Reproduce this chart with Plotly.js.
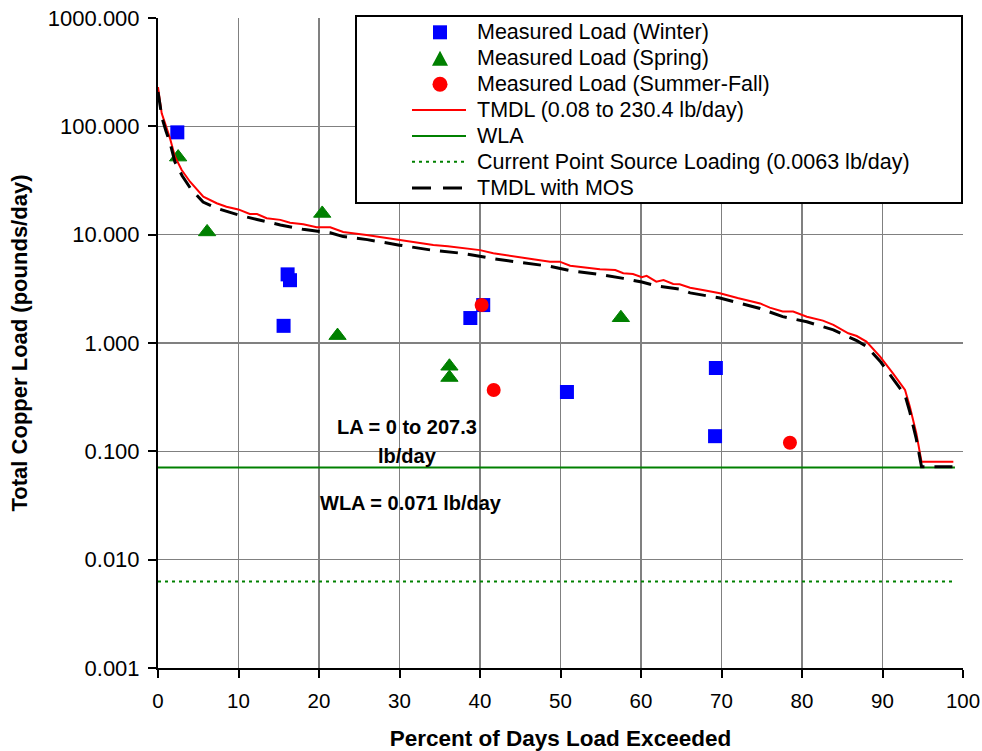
<!DOCTYPE html>
<html><head><meta charset="utf-8">
<script src="https://cdn.plot.ly/plotly-3.0.1.min.js"></script>
<style>html,body{margin:0;padding:0;background:#fff}#chart{width:982px;height:751px}</style>
</head><body><div id="chart"></div>
<script>
// ---------- data ----------
const winterX = [2.4, 16.1, 16.4, 15.6, 38.8, 40.4, 50.8, 69.3, 69.2];
const winterY = [88, 4.3, 3.8, 1.44, 1.70, 2.24, 0.353, 0.588, 0.138];

const springX = [2.5, 6.1, 20.4, 22.3, 36.2, 36.2, 57.5];
const springY = [52, 10.6, 15.7, 1.17, 0.61, 0.48, 1.71];

const summerX = [40.2, 41.7, 78.5];
const summerY = [2.24, 0.368, 0.120];

const tmdlX = [0, 0.25, 0.46, 0.87, 1.49, 2.11, 2.94, 3.98, 5.63, 7.29, 8.5, 9.98, 11.4, 12.3, 13.5, 15.2, 16.4, 18.05, 19.7, 21.4, 23.0, 25.9, 28, 30.06, 32, 34.2, 36, 38.3, 40, 41.65, 44.6, 46.6, 48.7, 49.9, 51.2, 53, 54.9, 56.8, 57.8, 59.0, 60.1, 60.7, 61.9, 62.8, 64.0, 64.8, 66.1, 68, 69.8, 72, 74.8, 76.0, 77.6, 78.9, 80.6, 82.6, 83.9, 85.75, 86.8, 88.0, 89.7, 91.3, 92.8, 93.4, 94.2, 94.85, 98.8];
const tmdlY = [230.4, 175, 132, 107, 77.5, 52.5, 39.5, 30.8, 22.4, 19.5, 18.1, 17.1, 15.5, 15.5, 14.2, 13.7, 12.9, 12.5, 11.7, 11.7, 10.6, 9.93, 9.4, 8.93, 8.5, 8.03, 7.8, 7.48, 7.2, 6.73, 6.18, 5.92, 5.63, 5.63, 5.17, 5.0, 4.79, 4.71, 4.40, 4.33, 4.04, 4.17, 3.68, 3.81, 3.51, 3.49, 3.24, 3.05, 2.88, 2.6, 2.32, 2.12, 1.95, 1.95, 1.75, 1.61, 1.47, 1.23, 1.16, 1.03, 0.748, 0.525, 0.368, 0.258, 0.147, 0.08, 0.08];

const mosX = [0, 0.5, 1.0, 1.5, 2.1, 3.0, 4.0, 5.6, 7.3, 10, 12.3, 15.2, 18, 21.4, 23, 26, 30, 34, 38, 41.7, 44.6, 48.7, 51.2, 54.9, 57.8, 60.1, 62, 64.8, 66.1, 69.8, 74.8, 77.6, 80.6, 83.9, 86.8, 88, 89.7, 91.3, 92.8, 93.4, 94.2, 94.85, 98.8];
const mosY = [207, 120, 90, 70, 47, 35, 27, 20, 17.5, 15.2, 13.8, 12.3, 11.2, 10.4, 9.6, 9.0, 8.0, 7.2, 6.7, 6.0, 5.6, 5.1, 4.65, 4.3, 3.95, 3.65, 3.35, 3.15, 2.9, 2.6, 2.08, 1.75, 1.57, 1.32, 1.05, 0.93, 0.68, 0.47, 0.33, 0.23, 0.13, 0.072, 0.072];

const wlaX = [0, 99];
const wlaY = [0.071, 0.071];
const psX = [0, 99];
const psY = [0.0063, 0.0063];

const yTickVals = [0.001, 0.01, 0.1, 1, 10, 100, 1000];
const yTickText = ['0.001', '0.010', '0.100', '1.000', '10.000', '100.000', '1000.000'];

const legendLabels = ['Measured Load (Winter)', 'Measured Load (Spring)', 'Measured Load (Summer-Fall)',
  'TMDL (0.08 to 230.4 lb/day)', 'WLA', 'Current Point Source Loading (0.0063 lb/day)', 'TMDL with MOS'];

const annoTexts = ['LA = 0 to 207.3', 'lb/day', 'WLA = 0.071 lb/day'];

// ---------- layout helpers ----------
const FONT = 'Liberation Sans, Arial, Helvetica, sans-serif';
const L = 158, R = 963, T = 18, B = 668;
const px = x => (x - L) / (R - L);
const py = y => (B - y) / (B - T);

const BLUE = '#0000ff', GREEN = '#008000', RED = '#ff0000';

const traces = [
  {x: winterX, y: winterY, type: 'scatter', mode: 'markers', name: legendLabels[0],
   marker: {symbol: 'square', size: 14, color: BLUE}},
  {x: springX, y: springY, type: 'scatter', mode: 'markers', name: legendLabels[1],
   marker: {symbol: 'triangle-up', size: 15, color: GREEN, line: {color: GREEN, width: 1}}},
  {x: summerX, y: summerY, type: 'scatter', mode: 'markers', name: legendLabels[2],
   marker: {symbol: 'circle', size: 14, color: RED}},
  {x: tmdlX, y: tmdlY, type: 'scatter', mode: 'lines', name: legendLabels[3],
   line: {color: RED, width: 2}},
  {x: wlaX, y: wlaY, type: 'scatter', mode: 'lines', name: legendLabels[4],
   line: {color: GREEN, width: 2}},
  {x: psX, y: psY, type: 'scatter', mode: 'lines', name: legendLabels[5],
   line: {color: GREEN, width: 2, dash: '3px,4px'}},
  {x: mosX, y: mosY, type: 'scatter', mode: 'lines', name: legendLabels[6],
   line: {color: '#000000', width: 3, dash: '18px,10px'}}
];

// ---------- manual legend ----------
const rowY = [32.3, 58.3, 84.3, 110, 136, 161.7, 188];
const shapes = [];
const annotations = [];
shapes.push({type: 'rect', xref: 'paper', yref: 'paper', layer: 'above',
  x0: px(356), x1: px(962), y0: py(203), y1: py(16),
  line: {color: '#000', width: 2}, fillcolor: '#ffffff'});
const mx = 440;
shapes.push({type: 'rect', xref: 'paper', yref: 'paper', layer: 'above',
  x0: px(mx - 7), x1: px(mx + 7), y0: py(rowY[0] + 7), y1: py(rowY[0] - 7),
  line: {width: 0}, fillcolor: BLUE});
shapes.push({type: 'path', xref: 'paper', yref: 'paper', layer: 'above',
  path: `M ${px(mx - 8)} ${py(rowY[1] + 7.5)} L ${px(mx + 8)} ${py(rowY[1] + 7.5)} L ${px(mx)} ${py(rowY[1] - 7.5)} Z`,
  line: {width: 0}, fillcolor: GREEN});
shapes.push({type: 'circle', xref: 'paper', yref: 'paper', layer: 'above',
  x0: px(mx - 7.5), x1: px(mx + 7.5), y0: py(rowY[2] + 7.5), y1: py(rowY[2] - 7.5),
  line: {width: 0}, fillcolor: RED});
const lineStyles = [
  {color: RED, width: 2, dash: 'solid'},
  {color: GREEN, width: 2, dash: 'solid'},
  {color: GREEN, width: 2, dash: '3px,4px'},
  {color: '#000000', width: 3, dash: '19px,12px'}
];
lineStyles.forEach((ls, i) => {
  const y = rowY[3 + i];
  shapes.push({type: 'line', xref: 'paper', yref: 'paper', layer: 'above',
    x0: px(412), x1: px(466), y0: py(y), y1: py(y), line: ls});
});
legendLabels.forEach((t, i) => {
  annotations.push({text: t, xref: 'paper', yref: 'paper', x: px(475), y: py(rowY[i]),
    xanchor: 'left', yanchor: 'middle', showarrow: false,
    font: {family: FONT, size: 21.5, color: '#000'}});
});

// ---------- text annotations ----------
const annoPos = [[407, 427], [407, 456], [410.5, 503]];
annoTexts.forEach((t, i) => {
  annotations.push({text: '<b>' + t + '</b>', xref: 'paper', yref: 'paper',
    x: px(annoPos[i][0]), y: py(annoPos[i][1]),
    xanchor: 'center', yanchor: 'middle', showarrow: false,
    font: {family: FONT, size: 20, color: '#000'}});
});

const layout = {
  width: 982, height: 751,
  margin: {l: L, r: 982 - R, t: T, b: 751 - B},
  paper_bgcolor: '#ffffff', plot_bgcolor: '#ffffff',
  showlegend: false,
  font: {family: FONT, color: '#000'},
  xaxis: {
    range: [0, 100], dtick: 10, tick0: 0,
    showgrid: true, gridcolor: '#808080', gridwidth: 1.5,
    showline: true, linecolor: '#000', linewidth: 2,
    ticks: 'outside', ticklen: 8, tickwidth: 2, tickcolor: '#000',
    ticklabelstandoff: 5,
    tickfont: {family: FONT, size: 20.5, color: '#000'},
    zeroline: false,
    title: {text: '<b>Percent of Days Load Exceeded</b>', font: {family: FONT, size: 22.5, color: '#000'}, standoff: 21}
  },
  yaxis: {
    type: 'log', range: [-3, 3],
    tickvals: yTickVals, ticktext: yTickText,
    showgrid: true, gridcolor: '#808080', gridwidth: 1.5,
    showline: true, linecolor: '#000', linewidth: 2,
    ticks: 'outside', ticklen: 8, tickwidth: 2, tickcolor: '#000',
    ticklabelstandoff: 4,
    tickfont: {family: FONT, size: 22, color: '#000'},
    zeroline: false,
    title: {text: '<b>Total Copper Load (pounds/day)</b>', font: {family: FONT, size: 22, color: '#000'}, standoff: 14}
  },
  shapes: shapes,
  annotations: annotations
};

Plotly.newPlot('chart', traces, layout, {displayModeBar: false, staticPlot: true});
</script>
</body></html>
